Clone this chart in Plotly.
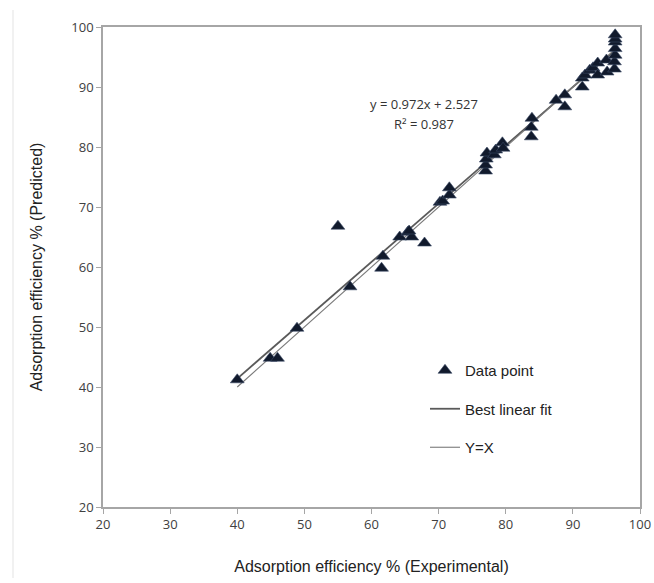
import plotly.graph_objects as go

# Data
experimental = [40.0, 44.9, 46.0, 48.9, 55.0, 56.8, 61.5, 61.7, 64.2, 65.4, 66.0, 65.6, 67.9,
                70.2, 70.6, 71.6, 71.6, 77.0, 77.0, 77.1, 77.2, 78.3, 78.5, 79.5, 79.6,
                83.8, 83.8, 83.9, 87.5, 88.8, 88.8, 91.4, 91.4, 91.8, 92.5, 93.0, 93.7,
                93.7, 95.0, 95.1, 96.2, 96.2, 96.3, 96.3, 96.3, 96.3, 96.3]
predicted = [41.2, 44.8, 44.8, 49.8, 66.8, 56.7, 59.8, 61.8, 65.0, 65.8, 65.0, 66.0, 64.0,
             70.8, 71.0, 72.0, 73.2, 76.0, 77.0, 78.0, 79.0, 78.7, 79.5, 80.7, 79.8,
             81.7, 83.3, 84.8, 87.8, 88.7, 86.7, 90.0, 91.5, 92.0, 92.8, 93.2, 92.0,
             94.0, 94.5, 92.5, 93.0, 94.2, 95.3, 96.4, 97.5, 98.0, 98.7]
line_x = [40.0, 96.3]
fit_slope = 0.972
fit_intercept = 2.527
x_ticks = [20, 30, 40, 50, 60, 70, 80, 90, 100]
y_ticks = [20, 30, 40, 50, 60, 70, 80, 90, 100]

fit_y = [fit_slope * v + fit_intercept for v in line_x]

fig = go.Figure()
fig.add_trace(go.Scatter(
    x=line_x, y=fit_y, mode="lines", name="Best linear fit", legendgroup="b",
    legendrank=2,
    line=dict(color="#5a5a5a", width=1.8),
))
fig.add_trace(go.Scatter(
    x=line_x, y=line_x, mode="lines", name="Y=X", legendgroup="c",
    legendrank=3,
    line=dict(color="#7a7a7a", width=1.1),
))
fig.add_trace(go.Scatter(
    x=experimental, y=predicted, mode="markers", name="Data point",
    legendgroup="a", legendrank=1,
    marker=dict(symbol="triangle-up", size=12, color="#111a2c",
                line=dict(color="#3b4a66", width=0.6)),
))

axis_common = dict(
    range=[20, 100], showgrid=False, zeroline=False, automargin=False,
    showline=True, linecolor="#a6a6a6", linewidth=1.5, mirror=True,
    ticks="outside", ticklen=5, tickcolor="#a6a6a6", tickwidth=1,
    tickfont=dict(family="Open Sans, Arial, sans-serif", size=13, color="#404040"),
)
fig.update_xaxes(tickvals=x_ticks, **axis_common,
                 title=dict(text="Adsorption efficiency % (Experimental)",
                            font=dict(family="Liberation Sans, Arial, sans-serif", size=16, color="#222222"),
                            standoff=28))
fig.update_yaxes(tickvals=y_ticks, **axis_common,
                 title=dict(text="Adsorption efficiency % (Predicted)",
                            font=dict(family="Liberation Sans, Arial, sans-serif", size=16, color="#222222"),
                            standoff=25))

eq_font = dict(family="Open Sans, Arial, sans-serif", size=13, color="#333333")
fig.add_annotation(x=67.8, y=20 + (507 - 104) / 6.0, xref="x", yref="y",
                   text="y = 0.972x + 2.527", showarrow=False, font=eq_font)
fig.add_annotation(x=67.8, y=20 + (507 - 124) / 6.0, xref="x", yref="y",
                   text="R² = 0.987", showarrow=False, font=eq_font)

fig.add_shape(type="line", xref="paper", yref="paper",
              x0=(13 - 103) / 537, x1=(13 - 103) / 537,
              y0=(507 - 578) / 480, y1=(507 - 10) / 480,
              line=dict(color="#ececec", width=1.5))

fig.update_layout(
    width=654, height=583,
    margin=dict(l=103, r=14, t=27, b=76),
    paper_bgcolor="white", plot_bgcolor="white",
    showlegend=True,
    legend=dict(x=(425 - 103) / 537, y=(507 - 354) / 480, xanchor="left", yanchor="top",
                bgcolor="rgba(0,0,0,0)", tracegroupgap=16,
                font=dict(family="Liberation Sans, Arial, sans-serif", size=15, color="#222222"),
                traceorder="grouped"),
)

fig.write_html(
    "out.html",
    config={"displayModeBar": False},
    post_script="document.body.style.margin='0';document.body.style.overflow='hidden';",
)
